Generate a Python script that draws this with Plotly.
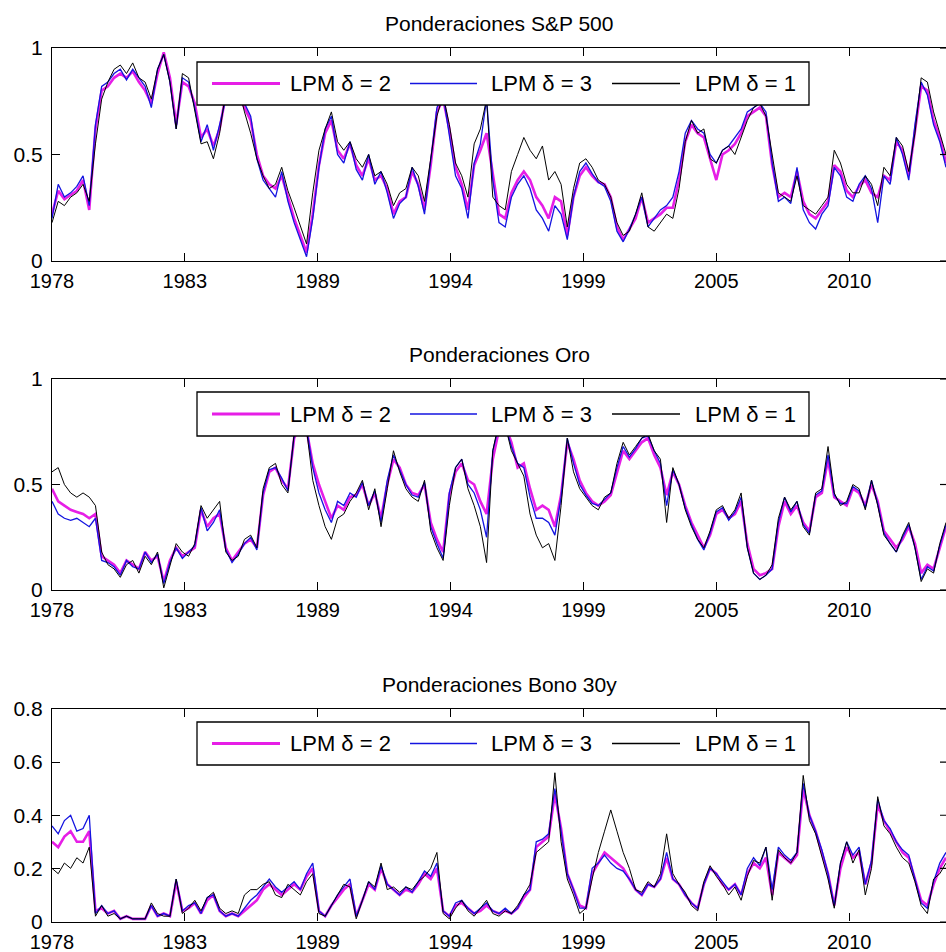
import plotly.graph_objects as go

# ---------------- data (quarterly readings, 1978.5 .. 2014.5) ----------------
start_year = 1978.5
step_year = 0.25

tick_labels = ["1978", "1983", "1989", "1994", "1999", "2005", "2010"]
tick_years = [1978.5, 1983.85, 1989.2, 1994.55, 1999.9, 2005.25, 2010.6]

titles = ["Ponderaciones S&P 500", "Ponderaciones Oro", "Ponderaciones Bono 30y"]
legend_names = ["LPM \u03b4 = 2", "LPM \u03b4 = 3", "LPM \u03b4 = 1"]

sp500_d2 = [0.22,0.33,0.29,0.31,0.33,0.38,0.24,0.62,0.80,0.82,
            0.86,0.88,0.86,0.89,0.84,0.80,0.74,0.88,0.98,0.86,
            0.64,0.84,0.82,0.74,0.58,0.62,0.54,0.62,0.78,0.80,
            0.78,0.72,0.66,0.50,0.40,0.36,0.34,0.40,0.30,0.20,
            0.12,0.04,0.22,0.45,0.60,0.66,0.52,0.48,0.55,0.45,
            0.40,0.48,0.38,0.40,0.34,0.22,0.28,0.30,0.42,0.36,
            0.24,0.45,0.70,0.76,0.62,0.44,0.36,0.24,0.45,0.52,
            0.60,0.40,0.22,0.20,0.32,0.38,0.42,0.38,0.30,0.26,
            0.20,0.30,0.28,0.12,0.30,0.40,0.44,0.40,0.37,0.36,
            0.30,0.16,0.10,0.15,0.20,0.30,0.18,0.20,0.22,0.25,
            0.25,0.38,0.56,0.64,0.60,0.58,0.48,0.38,0.50,0.52,
            0.55,0.60,0.68,0.70,0.72,0.68,0.45,0.30,0.32,0.30,
            0.42,0.28,0.22,0.20,0.24,0.28,0.45,0.42,0.33,0.30,
            0.35,0.38,0.32,0.30,0.40,0.38,0.56,0.52,0.40,0.62,
            0.82,0.80,0.66,0.58,0.46]
sp500_d3 = [0.20,0.36,0.30,0.32,0.35,0.40,0.26,0.64,0.82,0.84,
            0.88,0.90,0.85,0.90,0.86,0.82,0.72,0.90,0.97,0.84,
            0.62,0.86,0.84,0.72,0.56,0.64,0.52,0.64,0.76,0.82,
            0.80,0.74,0.68,0.48,0.38,0.34,0.30,0.42,0.28,0.18,
            0.10,0.02,0.20,0.44,0.62,0.68,0.50,0.46,0.56,0.43,
            0.38,0.50,0.36,0.42,0.32,0.20,0.27,0.30,0.44,0.35,
            0.22,0.46,0.72,0.78,0.60,0.40,0.34,0.20,0.46,0.55,
            0.76,0.38,0.18,0.16,0.30,0.36,0.40,0.34,0.24,0.20,
            0.14,0.26,0.22,0.10,0.30,0.42,0.46,0.41,0.37,0.35,
            0.28,0.14,0.09,0.15,0.22,0.30,0.16,0.20,0.24,0.26,
            0.30,0.42,0.60,0.66,0.62,0.60,0.50,0.46,0.52,0.54,
            0.58,0.62,0.70,0.72,0.74,0.70,0.46,0.28,0.30,0.27,
            0.44,0.24,0.18,0.15,0.22,0.26,0.44,0.40,0.30,0.28,
            0.36,0.40,0.34,0.18,0.40,0.36,0.58,0.50,0.38,0.64,
            0.84,0.78,0.64,0.56,0.44]
sp500_d1 = [0.18,0.28,0.26,0.30,0.32,0.36,0.28,0.55,0.76,0.84,
            0.90,0.92,0.88,0.93,0.86,0.84,0.76,0.90,0.97,0.84,
            0.62,0.88,0.86,0.70,0.55,0.56,0.48,0.60,0.80,0.84,
            0.82,0.70,0.60,0.48,0.40,0.34,0.36,0.44,0.33,0.25,
            0.16,0.08,0.32,0.52,0.62,0.70,0.56,0.52,0.56,0.48,
            0.44,0.50,0.40,0.42,0.36,0.26,0.32,0.34,0.44,0.40,
            0.28,0.48,0.68,0.78,0.64,0.46,0.40,0.30,0.55,0.62,
            0.76,0.30,0.26,0.24,0.42,0.50,0.58,0.52,0.48,0.54,
            0.38,0.42,0.36,0.16,0.34,0.46,0.48,0.44,0.38,0.36,
            0.30,0.18,0.12,0.14,0.22,0.32,0.16,0.14,0.18,0.22,
            0.20,0.34,0.56,0.66,0.60,0.62,0.48,0.46,0.52,0.54,
            0.50,0.58,0.66,0.72,0.74,0.68,0.50,0.32,0.30,0.28,
            0.40,0.26,0.24,0.22,0.26,0.30,0.52,0.46,0.36,0.32,
            0.32,0.40,0.36,0.26,0.44,0.40,0.58,0.54,0.42,0.60,
            0.86,0.84,0.70,0.60,0.50]

oro_d2 = [0.48,0.42,0.40,0.38,0.37,0.36,0.34,0.36,0.16,0.14,
          0.12,0.08,0.14,0.12,0.10,0.18,0.14,0.16,0.04,0.14,
          0.20,0.16,0.18,0.20,0.38,0.30,0.34,0.36,0.20,0.14,
          0.18,0.22,0.24,0.20,0.45,0.56,0.58,0.52,0.48,0.72,
          0.78,0.76,0.60,0.50,0.42,0.34,0.40,0.38,0.44,0.45,
          0.50,0.40,0.46,0.34,0.50,0.62,0.58,0.50,0.46,0.45,
          0.50,0.32,0.24,0.18,0.45,0.56,0.60,0.52,0.50,0.42,
          0.36,0.62,0.76,0.78,0.70,0.58,0.60,0.48,0.38,0.40,
          0.38,0.30,0.45,0.70,0.62,0.52,0.46,0.42,0.40,0.42,
          0.45,0.55,0.66,0.62,0.66,0.70,0.72,0.64,0.58,0.45,
          0.56,0.50,0.40,0.32,0.26,0.20,0.26,0.36,0.38,0.34,
          0.36,0.42,0.22,0.10,0.07,0.08,0.10,0.30,0.42,0.36,
          0.40,0.32,0.28,0.44,0.46,0.62,0.44,0.42,0.40,0.48,
          0.46,0.40,0.50,0.42,0.28,0.24,0.20,0.24,0.30,0.22,
          0.08,0.12,0.10,0.20,0.30]
oro_d3 = [0.42,0.36,0.34,0.33,0.34,0.32,0.30,0.34,0.14,0.13,
          0.11,0.07,0.14,0.11,0.10,0.18,0.13,0.17,0.03,0.13,
          0.20,0.15,0.18,0.21,0.39,0.28,0.32,0.38,0.19,0.13,
          0.17,0.22,0.25,0.19,0.46,0.57,0.58,0.53,0.47,0.73,
          0.79,0.77,0.58,0.46,0.38,0.32,0.42,0.40,0.46,0.44,
          0.51,0.40,0.47,0.32,0.52,0.64,0.57,0.50,0.45,0.44,
          0.51,0.30,0.22,0.15,0.46,0.58,0.62,0.50,0.46,0.38,
          0.25,0.66,0.78,0.78,0.68,0.60,0.58,0.44,0.34,0.34,
          0.32,0.26,0.44,0.72,0.60,0.50,0.45,0.41,0.40,0.43,
          0.46,0.58,0.68,0.63,0.67,0.72,0.73,0.66,0.60,0.40,
          0.57,0.50,0.39,0.31,0.24,0.19,0.27,0.37,0.39,0.33,
          0.37,0.44,0.20,0.08,0.05,0.07,0.10,0.32,0.44,0.37,
          0.42,0.31,0.27,0.45,0.47,0.64,0.45,0.41,0.41,0.49,
          0.47,0.39,0.52,0.41,0.27,0.22,0.18,0.25,0.31,0.20,
          0.05,0.11,0.09,0.21,0.31]
oro_d1 = [0.56,0.58,0.50,0.46,0.44,0.46,0.44,0.40,0.18,0.12,
          0.10,0.06,0.12,0.14,0.08,0.16,0.12,0.18,0.01,0.12,
          0.22,0.18,0.16,0.22,0.40,0.34,0.38,0.42,0.18,0.14,
          0.16,0.24,0.26,0.20,0.48,0.58,0.60,0.50,0.46,0.74,
          0.80,0.76,0.52,0.40,0.30,0.24,0.34,0.36,0.42,0.46,
          0.52,0.38,0.48,0.30,0.48,0.66,0.56,0.48,0.44,0.42,
          0.52,0.28,0.20,0.14,0.40,0.58,0.62,0.48,0.40,0.30,
          0.13,0.66,0.80,0.78,0.66,0.60,0.54,0.36,0.26,0.20,
          0.22,0.14,0.40,0.72,0.56,0.48,0.44,0.40,0.38,0.44,
          0.46,0.60,0.70,0.64,0.68,0.72,0.74,0.66,0.62,0.32,
          0.58,0.50,0.38,0.30,0.24,0.20,0.28,0.38,0.40,0.34,
          0.38,0.46,0.20,0.08,0.05,0.07,0.12,0.34,0.44,0.38,
          0.42,0.30,0.26,0.46,0.48,0.68,0.46,0.40,0.42,0.50,
          0.48,0.38,0.52,0.40,0.26,0.22,0.18,0.26,0.32,0.20,
          0.04,0.10,0.08,0.22,0.32]

bono_d2 = [0.30,0.28,0.32,0.34,0.30,0.30,0.34,0.04,0.05,0.03,
           0.04,0.01,0.02,0.01,0.01,0.01,0.06,0.02,0.03,0.02,
           0.15,0.04,0.05,0.07,0.03,0.08,0.10,0.04,0.02,0.03,
           0.02,0.04,0.06,0.08,0.12,0.14,0.12,0.10,0.12,0.14,
           0.12,0.17,0.20,0.04,0.02,0.06,0.09,0.12,0.14,0.02,
           0.08,0.14,0.12,0.20,0.14,0.12,0.10,0.12,0.11,0.14,
           0.18,0.16,0.20,0.04,0.02,0.06,0.07,0.05,0.03,0.04,
           0.06,0.04,0.03,0.04,0.03,0.05,0.09,0.12,0.28,0.30,
           0.32,0.48,0.35,0.18,0.12,0.06,0.05,0.18,0.22,0.26,
           0.24,0.22,0.20,0.16,0.12,0.10,0.14,0.13,0.16,0.24,
           0.16,0.14,0.10,0.07,0.05,0.14,0.20,0.18,0.14,0.12,
           0.14,0.10,0.18,0.22,0.20,0.24,0.10,0.26,0.24,0.22,
           0.25,0.50,0.40,0.34,0.26,0.18,0.06,0.20,0.28,0.24,
           0.26,0.14,0.22,0.44,0.38,0.34,0.30,0.26,0.24,0.16,
           0.08,0.06,0.14,0.20,0.24]
bono_d3 = [0.36,0.33,0.38,0.40,0.34,0.35,0.40,0.03,0.06,0.03,
           0.04,0.01,0.02,0.01,0.01,0.01,0.06,0.02,0.03,0.02,
           0.16,0.04,0.06,0.07,0.03,0.09,0.10,0.04,0.02,0.03,
           0.02,0.05,0.08,0.10,0.13,0.16,0.13,0.11,0.13,0.15,
           0.12,0.18,0.22,0.04,0.02,0.06,0.10,0.13,0.16,0.02,
           0.08,0.15,0.12,0.21,0.14,0.12,0.10,0.13,0.11,0.15,
           0.19,0.17,0.22,0.04,0.02,0.07,0.08,0.05,0.03,0.05,
           0.07,0.04,0.03,0.05,0.03,0.05,0.10,0.12,0.30,0.31,
           0.33,0.50,0.34,0.18,0.12,0.05,0.05,0.20,0.22,0.25,
           0.22,0.20,0.19,0.16,0.12,0.10,0.14,0.13,0.16,0.26,
           0.16,0.14,0.10,0.07,0.05,0.14,0.20,0.18,0.15,0.12,
           0.14,0.10,0.20,0.24,0.21,0.28,0.12,0.28,0.25,0.23,
           0.26,0.52,0.40,0.34,0.27,0.18,0.06,0.22,0.30,0.25,
           0.28,0.14,0.23,0.46,0.38,0.35,0.30,0.27,0.25,0.16,
           0.07,0.05,0.15,0.22,0.26]
bono_d1 = [0.20,0.18,0.22,0.20,0.24,0.22,0.28,0.02,0.06,0.02,
           0.03,0.01,0.02,0.01,0.01,0.01,0.07,0.03,0.02,0.02,
           0.16,0.03,0.05,0.08,0.04,0.09,0.11,0.05,0.03,0.04,
           0.03,0.10,0.12,0.12,0.14,0.15,0.10,0.09,0.14,0.12,
           0.10,0.15,0.18,0.03,0.02,0.06,0.10,0.14,0.13,0.01,
           0.08,0.15,0.13,0.22,0.12,0.13,0.11,0.13,0.12,0.15,
           0.17,0.20,0.26,0.03,0.01,0.05,0.08,0.04,0.02,0.05,
           0.08,0.03,0.02,0.04,0.03,0.06,0.10,0.14,0.26,0.28,
           0.30,0.56,0.30,0.16,0.10,0.03,0.05,0.16,0.26,0.34,
           0.42,0.34,0.26,0.20,0.12,0.11,0.15,0.13,0.18,0.33,
           0.18,0.14,0.11,0.06,0.04,0.15,0.21,0.17,0.14,0.10,
           0.13,0.08,0.17,0.23,0.22,0.28,0.08,0.27,0.24,0.22,
           0.26,0.55,0.38,0.33,0.25,0.16,0.05,0.22,0.30,0.22,
           0.27,0.10,0.20,0.47,0.36,0.33,0.28,0.24,0.22,0.15,
           0.06,0.03,0.16,0.18,0.22]

y_ticks = [[0, 0.5, 1], [0, 0.5, 1], [0, 0.2, 0.4, 0.6, 0.8]]
y_ticktext = [["0", "0.5", "1"], ["0", "0.5", "1"], ["0", "0.2", "0.4", "0.6", "0.8"]]
y_ranges = [[0, 1], [0, 1], [0, 0.8]]

# ---------------- layout geometry (pixels) ----------------
W, H = 946, 952
def px(x):
    return x / W
def py(y):
    return 1 - y / H

plot_left = 52
panels_px = [(48, 261), (379, 590), (709, 921.5)]
legend_px = [(62, 105), (392, 436), (722, 765)]
x_range = [1978.5, 2014.5]

colors = ["#e61ee6", "#1414e0", "#000000"]
widths = [2.6, 1.3, 1.0]
FONT = "Arial, Liberation Sans, sans-serif"

fig = go.Figure()
series = [[sp500_d2, sp500_d3, sp500_d1],
          [oro_d2, oro_d3, oro_d1],
          [bono_d2, bono_d3, bono_d1]]

for p, group in enumerate(series):
    sfx = "" if p == 0 else str(p + 1)
    for s, vals in enumerate(group):
        xs = [start_year + step_year * i for i in range(len(vals))]
        fig.add_trace(go.Scatter(x=xs, y=vals, mode="lines",
                                 line=dict(color=colors[s], width=widths[s]),
                                 name=legend_names[s], showlegend=False,
                                 xaxis="x" + sfx, yaxis="y" + sfx))

layout = dict(width=W, height=H,
              margin=dict(l=0, r=0, t=0, b=0, pad=0, autoexpand=False),
              paper_bgcolor="white", plot_bgcolor="white",
              font=dict(family=FONT, color="black"), showlegend=False)

shapes = []
annotations = []
for p in range(3):
    sfx = "" if p == 0 else str(p + 1)
    top, bot = panels_px[p]
    layout["xaxis" + sfx] = dict(domain=[px(plot_left), 1.0], range=x_range,
                                 tickvals=tick_years, ticktext=tick_labels,
                                 ticks="inside", ticklen=8, tickwidth=1.2, tickcolor="black",
                                 showline=True, linecolor="black", linewidth=1.3,
                                 mirror="ticks", showgrid=False, zeroline=False,
                                 tickfont=dict(size=20, family=FONT, color="black"),
                                 ticklabelstandoff=2, automargin=False,
                                 anchor="y" + sfx, fixedrange=True)
    layout["yaxis" + sfx] = dict(domain=[py(bot), py(top)], range=y_ranges[p],
                                 tickvals=y_ticks[p], ticktext=y_ticktext[p],
                                 ticks="inside", ticklen=8, tickwidth=1.2, tickcolor="black",
                                 showline=True, linecolor="black", linewidth=1.3,
                                 mirror=False, showgrid=False, zeroline=False,
                                 tickfont=dict(size=21, family=FONT, color="black"),
                                 ticklabelstandoff=4, automargin=False,
                                 anchor="x" + sfx, fixedrange=True)
    # right-side ticks (right axis edge lies just outside the picture)
    for tv in y_ticks[p]:
        shapes.append(dict(type="line", xref="paper", yref="y" + sfx,
                           x0=px(940), x1=1.0, y0=tv, y1=tv,
                           line=dict(color="black", width=1.2), layer="above"))
    # title
    annotations.append(dict(text=titles[p], xref="paper", yref="paper",
                            x=px(499), y=py(top - 25), xanchor="center", yanchor="middle",
                            showarrow=False, font=dict(size=21, family=FONT, color="black")))
    # legend box
    lt, lb = legend_px[p]
    shapes.append(dict(type="rect", xref="paper", yref="paper",
                       x0=px(197), x1=px(809), y0=py(lb), y1=py(lt),
                       fillcolor="white", line=dict(color="black", width=1.3), layer="above"))
    ymid = (lt + lb) / 2
    samples = [(212, 280, 288), (410, 477, 489), (612, 680, 693)]
    for s, (x0, x1, xt) in enumerate(samples):
        shapes.append(dict(type="line", xref="paper", yref="paper",
                           x0=px(x0), x1=px(x1), y0=py(ymid), y1=py(ymid),
                           line=dict(color=colors[s], width=widths[s] + 0.4), layer="above"))
        annotations.append(dict(text=legend_names[s], xref="paper", yref="paper",
                                x=px(xt), y=py(ymid), xanchor="left", yanchor="middle",
                                showarrow=False,
                                font=dict(size=22, family=FONT, color="black")))

layout["shapes"] = shapes
layout["annotations"] = annotations
fig.update_layout(**layout)

fig.write_html("out.html", config={"displayModeBar": False},
               post_script="document.body.style.margin='0';document.body.style.overflow='hidden';")
